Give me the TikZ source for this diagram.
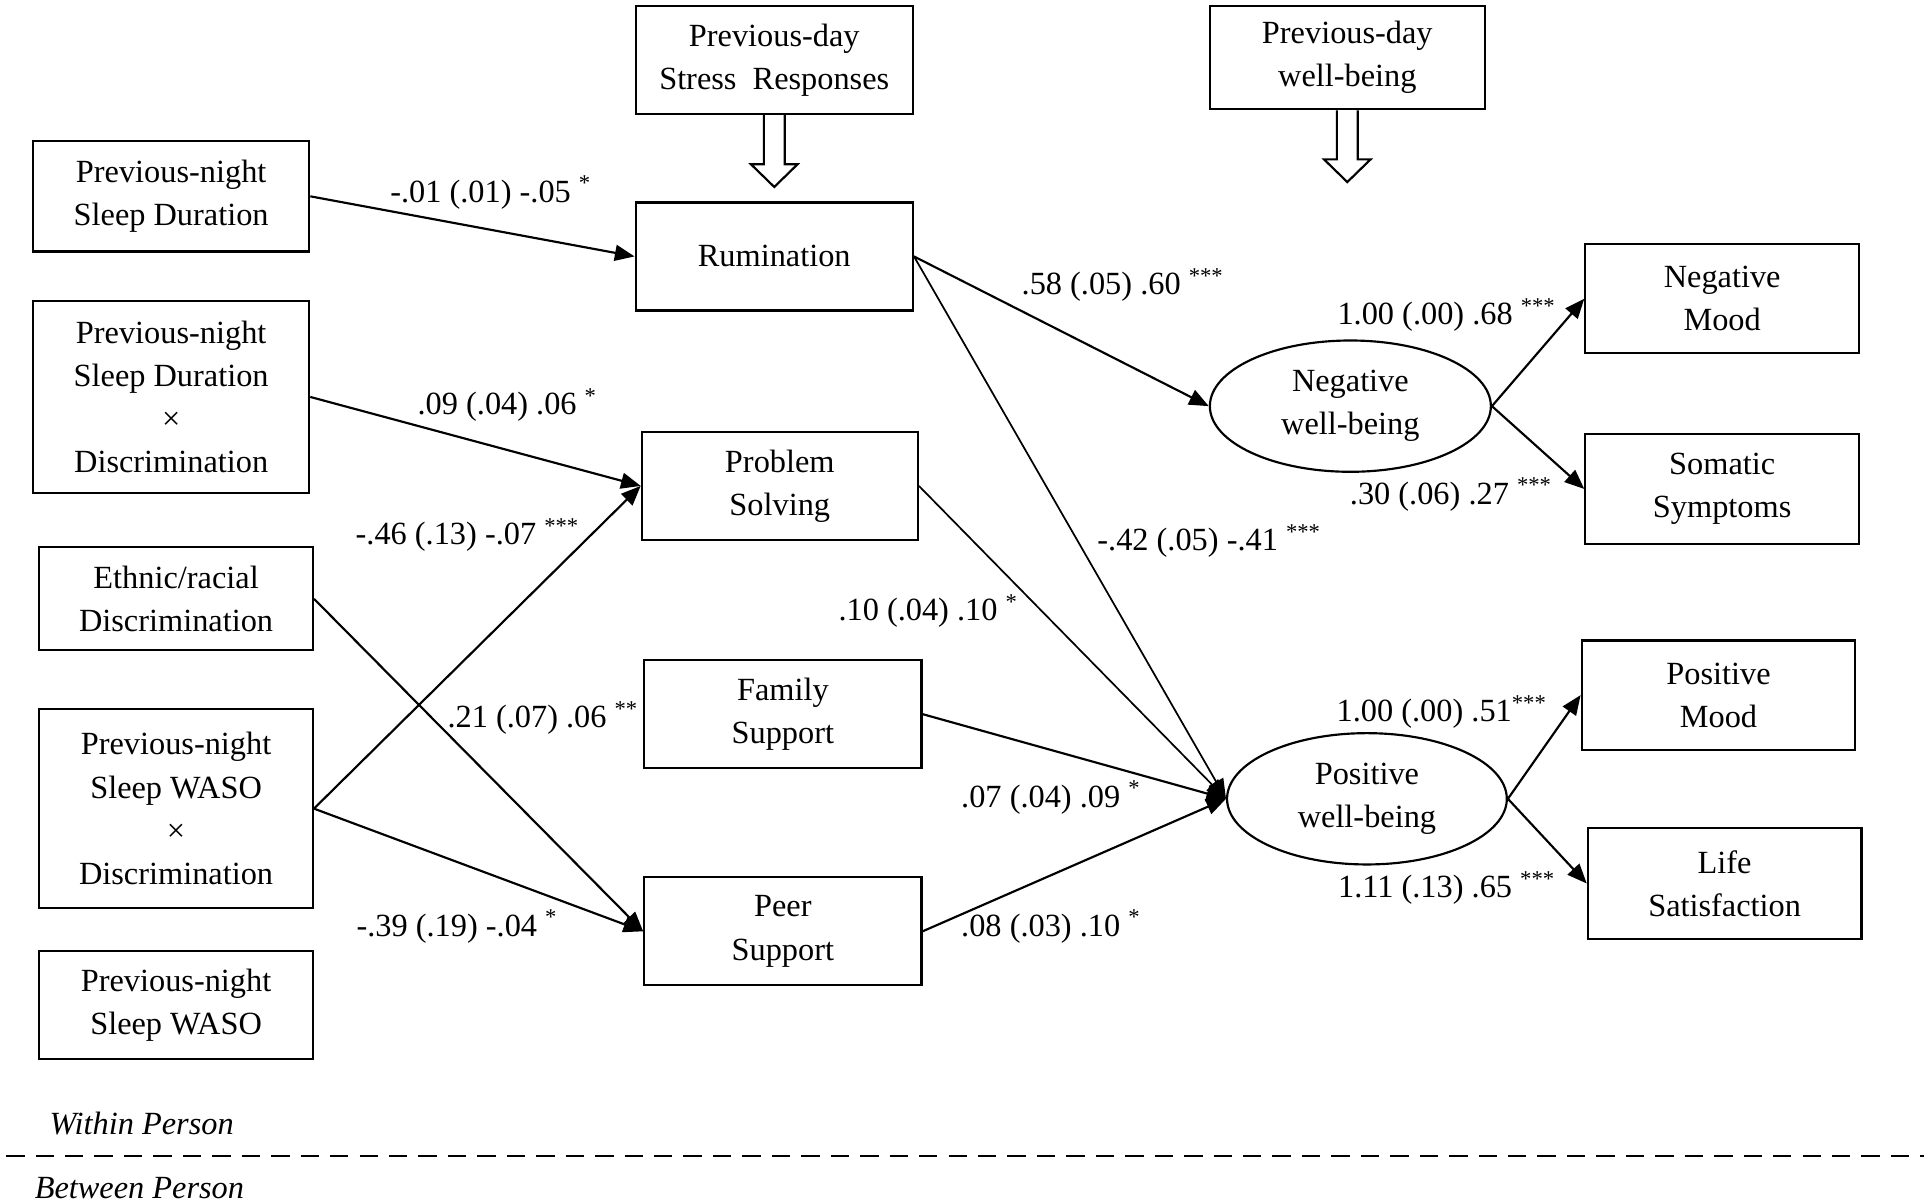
\documentclass[tikz,border=0pt]{standalone}
\usepackage{fontspec}
\setmainfont{Liberation Serif}
\usetikzlibrary{arrows.meta,shapes.geometric,calc}

\begin{document}
\begin{tikzpicture}[
  box/.style={draw, line width=1pt, minimum width=4.5cm, minimum height=1.76cm, align=center, font=\fontsize{15}{20}\selectfont},
  latent/.style={draw, ellipse, line width=1pt, minimum width=4.58cm, minimum height=2.14cm, inner sep=0pt, align=center, font=\fontsize{15}{20}\selectfont},
  effect/.style={line width=1pt, -{Triangle[length=0.32cm, width=0.26cm]}},
  coef/.style={font=\fontsize{15}{18}\selectfont}
]
\useasboundingbox (0,0) rectangle (31.36,19.62);

% Predictors (left column)
\node[box, minimum height=1.8cm] (sleepdur) at (2.79, 16.42) {Previous-night\\Sleep Duration};
\node[box, minimum height=3.14cm] (sleepdurdisc) at (2.79, 13.15) {Previous-night\\Sleep Duration\\×\\Discrimination};
\node[box, minimum width=4.46cm, minimum height=1.68cm] (disc) at (2.87, 9.86) {Ethnic/racial\\Discrimination};
\node[box, minimum width=4.46cm, minimum height=3.24cm] (wasodisc) at (2.87, 6.44) {Previous-night\\Sleep WASO\\×\\Discrimination};
\node[box, minimum width=4.46cm] (waso) at (2.87, 3.24) {Previous-night\\Sleep WASO};

% Stress responses (middle column)
\node[box, minimum width=4.52cm] (stress) at (12.62, 18.64) {Previous-day\\Stress\ \ Responses};
\node[box, minimum width=4.52cm] (rum) at (12.62, 15.44) {Rumination};
\node[box] (problem) at (12.71, 11.7) {Problem\\Solving};
\node[box, minimum width=4.52cm] (family) at (12.76, 7.98) {Family\\Support};
\node[box, minimum width=4.52cm] (peer) at (12.76, 4.44) {Peer\\Support};

% Well-being
\node[box, minimum width=4.48cm, minimum height=1.68cm] (prevwb) at (21.96, 18.68) {Previous-day\\well-being};
\node[latent] (negwb) at (22.01, 13.0) {Negative\\well-being};
\node[latent, minimum width=4.56cm] (poswb) at (22.28, 6.6) {Positive\\well-being};
\node[box, minimum width=4.46cm, minimum height=1.78cm] (negmood) at (28.07, 14.75) {Negative\\Mood};
\node[box, minimum width=4.46cm, minimum height=1.78cm] (somatic) at (28.07, 11.65) {Somatic\\Symptoms};
\node[box, minimum width=4.46cm, minimum height=1.78cm] (posmood) at (28.01, 8.29) {Positive\\Mood};
\node[box, minimum width=4.46cm, minimum height=1.8cm] (life) at (28.11, 5.22) {Life\\Satisfaction};

% Hollow arrows for the previous-day controls
\foreach \src in {stress, prevwb}
  \draw[line width=1pt] ($(\src.south)+(-0.17,0)$) -- ++(0,-0.8) -- ++(-0.21,0) -- ++(0.38,-0.37) -- ++(0.38,0.37) -- ++(-0.21,0) -- ++(0,0.8);

% Paths
\draw[effect] (sleepdur.east) -- (rum.west);
\draw[effect] (sleepdurdisc.east) -- (problem.west);
\draw[effect] (wasodisc.east) -- (problem.west);
\draw[effect] (disc.east) -- (peer.west);
\draw[effect] (wasodisc.east) -- (peer.west);
\draw[effect] (rum.east) -- (negwb.west);
\draw[effect, line width=0.8pt] (rum.east) -- (poswb.west);
\draw[effect, line width=0.8pt] (problem.east) -- (poswb.west);
\draw[effect] (family.east) -- (poswb.west);
\draw[effect] (peer.east) -- (poswb.west);
\draw[effect] (negwb.east) -- (negmood.west);
\draw[effect] (negwb.east) -- (somatic.west);
\draw[effect] (poswb.east) -- (posmood.west);
\draw[effect] (poswb.east) -- (life.west);

% Coefficients
\node[coef] (c1) at (8.0, 16.48) {-.01 (.01) -.05 \textsuperscript{*}};
\node[coef] (c2) at (8.27, 13.02) {.09 (.04) .06 \textsuperscript{*}};
\node[coef] (c3) at (7.62, 10.9) {-.46 (.13) -.07 \textsuperscript{***}};
\node[coef] (c4) at (8.85, 7.92) {.21 (.07) .06 \textsuperscript{**}};
\node[coef] (c5) at (7.45, 4.52) {-.39 (.19) -.04 \textsuperscript{*}};
\node[coef] (c6) at (18.3, 14.98) {.58 (.05) .60 \textsuperscript{***}};
\node[coef] (c7) at (19.71, 10.8) {-.42 (.05) -.41 \textsuperscript{***}};
\node[coef] (c8) at (15.13, 9.66) {.10 (.04) .10 \textsuperscript{*}};
\node[coef] (c9) at (17.13, 6.62) {.07 (.04) .09 \textsuperscript{*}};
\node[coef] (c10) at (17.13, 4.52) {.08 (.03) .10 \textsuperscript{*}};
\node[coef] (c11) at (23.58, 14.48) {1.00 (.00) .68 \textsuperscript{***}};
\node[coef] (c12) at (23.65, 11.56) {.30 (.06) .27 \textsuperscript{***}};
\node[coef] (c13) at (23.5, 8.02) {1.00 (.00) .51\textsuperscript{***}};
\node[coef] (c14) at (23.58, 5.14) {1.11 (.13) .65 \textsuperscript{***}};

% Within / between split
\draw[line width=1pt, dash pattern=on 0.3cm off 0.18cm] (0.1, 0.78) -- (31.36, 0.78);
\node[coef, font=\fontsize{15}{18}\selectfont\itshape, anchor=west, inner sep=0pt] (within) at (0.8, 1.3) {Within Person};
\node[coef, font=\fontsize{15}{18}\selectfont\itshape, anchor=west, inner sep=0pt] (between) at (0.56, 0.26) {Between Person};
\end{tikzpicture}
\end{document}
